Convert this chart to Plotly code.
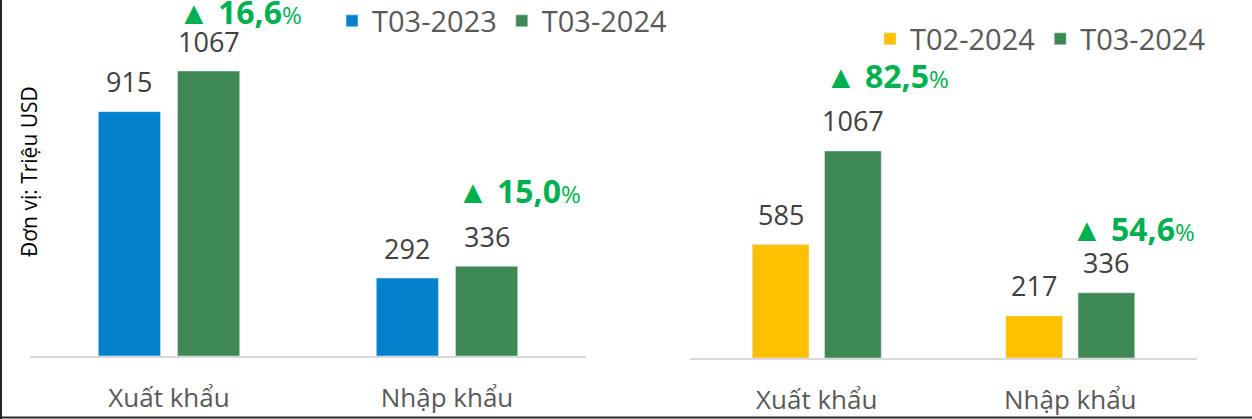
import plotly.graph_objects as go

# ---- data ----
categories = ["Xuất khẩu", "Nhập khẩu"]
t03_2023 = [915, 292]
t03_2024 = [1067, 336]
t02_2024 = [585, 217]
pct_yoy = ["16,6", "15,0"]   # T03-2024 vs T03-2023
pct_mom = ["82,5", "54,6"]   # T03-2024 vs T02-2024
y_title = "Đơn vị: Triệu USD"

# ---- style ----
W, H = 1252, 419
FONT = "Open Sans"
C_BLUE = "#0481CC"
C_GREEN = "#3E8853"
C_YELLOW = "#FFC000"
C_PCT = "#00B050"
C_LABEL = "#404040"
C_AXIS_TXT = "#595959"
BARGAP = 0.43
BARGROUPGAP = 0.215
half_slot = (1 - BARGAP) / 4  # centre offset of each bar in a 2-bar group

# per-annotation pixel offsets of the percentage labels (from green bar top/centre)
pct_left_xshift = [31, 32]
pct_left_yshift = [60, 76]
pct_right_xshift = [34, 27]
pct_right_yshift = [75, 64]

fig = go.Figure()
xs = list(range(len(categories)))

fig.add_trace(go.Bar(x=xs, y=t03_2023, name="T03-2023", marker_color=C_BLUE,
                     xaxis="x", yaxis="y", legend="legend"))
fig.add_trace(go.Bar(x=xs, y=t03_2024, name="T03-2024", marker_color=C_GREEN,
                     xaxis="x", yaxis="y", legend="legend"))
fig.add_trace(go.Bar(x=xs, y=t02_2024, name="T02-2024", marker_color=C_YELLOW,
                     xaxis="x2", yaxis="y2", legend="legend2"))
fig.add_trace(go.Bar(x=xs, y=t03_2024, name="T03-2024", marker_color=C_GREEN,
                     xaxis="x2", yaxis="y2", legend="legend2"))

ann = []
def value_labels(vals, side, xref, yref):
    for i, v in enumerate(vals):
        ann.append(dict(x=i + side * half_slot, y=v, xref=xref, yref=yref,
                        text=str(v), showarrow=False, yanchor="middle", yshift=30,
                        font=dict(family=FONT, size=27, color=C_LABEL)))

value_labels(t03_2023, -1, "x", "y")
value_labels(t03_2024, +1, "x", "y")
value_labels(t02_2024, -1, "x2", "y2")
value_labels(t03_2024, +1, "x2", "y2")

def pct_labels(pcts, vals, xref, yref, xsh, ysh):
    for i, (p, v) in enumerate(zip(pcts, vals)):
        ann.append(dict(x=i + half_slot, y=v, xref=xref, yref=yref, showarrow=False,
                        text=f"<b>▲ {p}</b><span style='font-size:24px'>%</span>",
                        xanchor="center", yanchor="middle",
                        xshift=xsh[i], yshift=ysh[i],
                        font=dict(family=FONT, size=32, color=C_PCT)))

pct_labels(pct_yoy, t03_2024, "x", "y", pct_left_xshift, pct_left_yshift)
pct_labels(pct_mom, t03_2024, "x2", "y2", pct_right_xshift, pct_right_yshift)

ann.append(dict(x=29 / W, y=1 - 172 / H, xref="paper", yref="paper", text=y_title,
                textangle=-90, showarrow=False, xanchor="center", yanchor="middle",
                font=dict(family=FONT, size=21, color="#000000")))

xaxis_common = dict(range=[-0.5, 1.5], tickvals=xs, ticktext=categories,
                    showline=True, linecolor="#D9D9D9", linewidth=2,
                    showgrid=False, zeroline=False, ticks="", fixedrange=True,
                    ticklabelstandoff=18,
                    tickfont=dict(family=FONT, size=26, color=C_AXIS_TXT))
yaxis_common = dict(visible=False, showgrid=False, zeroline=False, fixedrange=True)

fig.update_layout(
    width=W, height=H,
    margin=dict(l=0, r=0, t=0, b=0, autoexpand=False),
    paper_bgcolor="white", plot_bgcolor="white",
    barmode="group", bargap=BARGAP, bargroupgap=BARGROUPGAP,
    font=dict(family=FONT),
    xaxis=dict(domain=[30 / W, 586 / W], anchor="y", **xaxis_common),
    yaxis=dict(domain=[(H - 356) / H, 1], range=[0, 1333], anchor="x", **yaxis_common),
    xaxis2=dict(domain=[690 / W, 1197 / W], anchor="y2", **xaxis_common),
    yaxis2=dict(domain=[(H - 358) / H, 1], range=[0, 1845], anchor="x2", **yaxis_common),
    legend=dict(orientation="h", x=332 / W, xanchor="left", y=1 - 21 / H, yanchor="middle",
                font=dict(family=FONT, size=29, color=C_AXIS_TXT),
                bgcolor="rgba(0,0,0,0)", traceorder="normal"),
    legend2=dict(orientation="h", x=870 / W, xanchor="left", y=1 - 39 / H, yanchor="middle",
                 font=dict(family=FONT, size=29, color=C_AXIS_TXT),
                 bgcolor="rgba(0,0,0,0)", traceorder="normal"),
    annotations=ann,
    shapes=[
        dict(type="line", xref="paper", yref="paper", x0=1 / W, x1=1 / W, y0=0, y1=1,
             line=dict(color="#262626", width=2)),
        dict(type="line", xref="paper", yref="paper", x0=0, x1=1, y0=1.5 / H, y1=1.5 / H,
             line=dict(color="#262626", width=2)),
    ],
)

fig.write_html("out.html", config={"displayModeBar": False},
               post_script="document.body.style.margin='0';document.body.style.padding='0';")
